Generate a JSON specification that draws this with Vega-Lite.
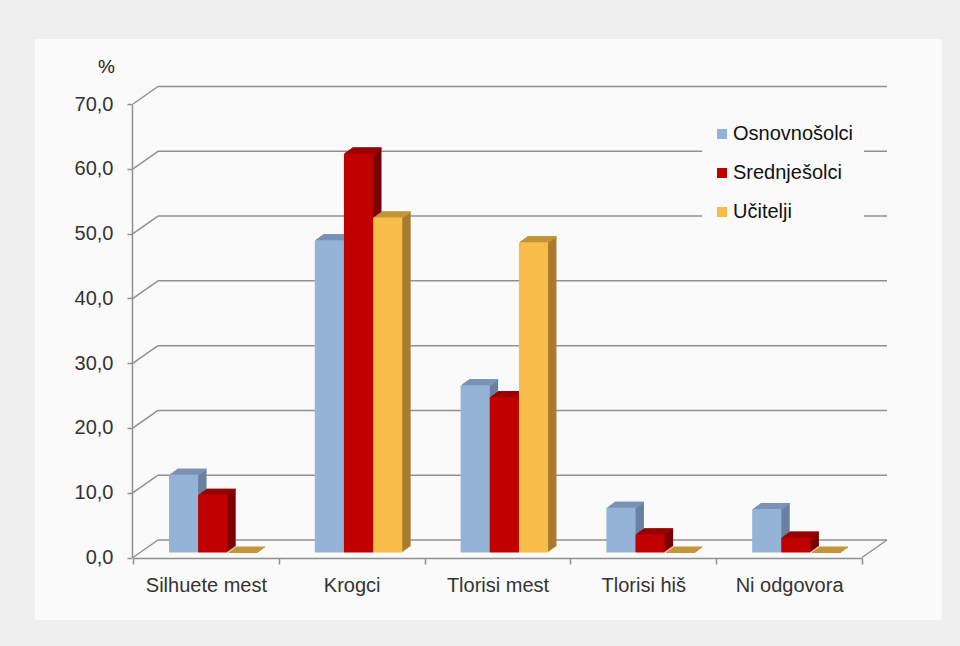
{
  "$schema": "https://vega.github.io/schema/vega-lite/v6.json",
  "width": 907,
  "height": 581,
  "autosize": {"type": "none"},
  "padding": {"left": 35, "top": 39, "right": 18, "bottom": 26},
  "background": "#efefef",
  "config": {"view": {"fill": "#fafafa", "stroke": null}, "font": "Liberation Sans"},
  "datasets": {
    "bars": [
      {"k": "Silhuete mest", "s": "Osnovnošolci", "v": 12.0},
      {"k": "Silhuete mest", "s": "Srednješolci", "v": 8.9},
      {"k": "Silhuete mest", "s": "Učitelji", "v": 0},
      {"k": "Krogci", "s": "Osnovnošolci", "v": 48.2},
      {"k": "Krogci", "s": "Srednješolci", "v": 61.6},
      {"k": "Krogci", "s": "Učitelji", "v": 51.7},
      {"k": "Tlorisi mest", "s": "Osnovnošolci", "v": 25.8},
      {"k": "Tlorisi mest", "s": "Srednješolci", "v": 24.0},
      {"k": "Tlorisi mest", "s": "Učitelji", "v": 47.9},
      {"k": "Tlorisi hiš", "s": "Osnovnošolci", "v": 6.9},
      {"k": "Tlorisi hiš", "s": "Srednješolci", "v": 2.8},
      {"k": "Tlorisi hiš", "s": "Učitelji", "v": 0},
      {"k": "Ni odgovora", "s": "Osnovnošolci", "v": 6.7},
      {"k": "Ni odgovora", "s": "Srednješolci", "v": 2.3},
      {"k": "Ni odgovora", "s": "Učitelji", "v": 0}
    ],
    "grid": [{"v": 0}, {"v": 10}, {"v": 20}, {"v": 30}, {"v": 40}, {"v": 50}, {"v": 60}, {"v": 70}]
  },
  "encoding": {
    "x": {
      "field": "k", "type": "nominal", "title": null,
      "scale": {"domain": ["Silhuete mest", "Krogci", "Tlorisi mest", "Tlorisi hiš", "Ni odgovora"], "range": [98, 827], "paddingInner": 0, "paddingOuter": 0},
      "axis": {"orient": "bottom", "offset": -62, "labelAngle": 0, "labelFontSize": 20, "labelFont": "Liberation Sans", "labelColor": "#333333", "labelPadding": 11, "tickBand": "extent", "tickSize": 6, "tickColor": "#909090", "tickWidth": 1.5, "domainColor": "#909090", "domainWidth": 1.5, "grid": false}
    },
    "y": {
      "field": "v", "type": "quantitative",
      "scale": {"domain": [0, 70], "range": [518.5, 65], "nice": false},
      "axis": {"values": [0, 10, 20, 30, 40, 50, 60, 70], "offset": -97, "grid": false, "labelExpr": "replace(format(datum.value, '.1f'), '.', ',')", "labelFontSize": 20, "labelFont": "Liberation Sans", "labelColor": "#333333", "labelPadding": 14, "tickSize": 5, "tickColor": "#909090", "tickWidth": 1.5, "domainColor": "#909090", "domainWidth": 1.5, "title": "%", "titleAngle": 0, "titleX": -26, "titleY": 27, "titleFontSize": 19, "titleFontWeight": "normal", "titleColor": "#222222", "titleAlign": "center", "titleBaseline": "middle", "titleFont": "Liberation Sans"}
    }
  },
  "layer": [
    {"data": {"name": "grid"}, "mark": {"type": "rule", "color": "#909090", "strokeWidth": 1.5, "xOffset": -47.9, "x2Offset": 97.9, "yOffset": -17.5}, "encoding": {"x": {"datum": "Silhuete mest"}, "x2": {"datum": "Ni odgovora"}}},
    {"data": {"name": "grid"}, "mark": {"type": "rule", "color": "#909090", "strokeWidth": 1.5, "xOffset": -72.9, "x2Offset": -47.9, "y2Offset": -17.5}, "encoding": {"x": {"datum": "Silhuete mest"}, "x2": {"datum": "Silhuete mest"}, "y2": {"field": "v"}}},
    {"data": {"name": "grid"}, "transform": [{"filter": "datum.v === 0"}], "mark": {"type": "rule", "color": "#909090", "strokeWidth": 1.5, "xOffset": 72.9, "x2Offset": 97.9, "y2Offset": -17.5}, "encoding": {"x": {"datum": "Ni odgovora"}, "x2": {"datum": "Ni odgovora"}, "y2": {"field": "v"}}},

    {"data": {"name": "bars"}, "mark": {"type": "bar", "yOffset": -11, "y2Offset": -11}, "encoding": {"xOffset": {"field": "s", "type": "nominal", "scale": {"domain": ["Osnovnošolci", "Srednješolci", "Učitelji"], "paddingInner": 0, "paddingOuter": 1.1318, "align": 0.7608}}, "y2": {"datum": 0}, "fill": {"condition": [{"test": "datum.s === 'Osnovnošolci'", "value": "#6880a2"}, {"test": "datum.s === 'Srednješolci'", "value": "#7a0000"}], "value": "#a87b2e"}}},
    {"data": {"name": "bars"}, "mark": {"type": "bar", "yOffset": -10, "y2Offset": -10}, "encoding": {"xOffset": {"field": "s", "type": "nominal", "scale": {"domain": ["Osnovnošolci", "Srednješolci", "Učitelji"], "paddingInner": 0, "paddingOuter": 1.1318, "align": 0.7368}}, "y2": {"datum": 0}, "fill": {"condition": [{"test": "datum.s === 'Osnovnošolci'", "value": "#6880a2"}, {"test": "datum.s === 'Srednješolci'", "value": "#7a0000"}], "value": "#a87b2e"}}},
    {"data": {"name": "bars"}, "mark": {"type": "bar", "yOffset": -9, "y2Offset": -9}, "encoding": {"xOffset": {"field": "s", "type": "nominal", "scale": {"domain": ["Osnovnošolci", "Srednješolci", "Učitelji"], "paddingInner": 0, "paddingOuter": 1.1318, "align": 0.7129}}, "y2": {"datum": 0}, "fill": {"condition": [{"test": "datum.s === 'Osnovnošolci'", "value": "#6880a2"}, {"test": "datum.s === 'Srednješolci'", "value": "#7a0000"}], "value": "#a87b2e"}}},
    {"data": {"name": "bars"}, "mark": {"type": "bar", "yOffset": -8, "y2Offset": -8}, "encoding": {"xOffset": {"field": "s", "type": "nominal", "scale": {"domain": ["Osnovnošolci", "Srednješolci", "Učitelji"], "paddingInner": 0, "paddingOuter": 1.1318, "align": 0.6890}}, "y2": {"datum": 0}, "fill": {"condition": [{"test": "datum.s === 'Osnovnošolci'", "value": "#6880a2"}, {"test": "datum.s === 'Srednješolci'", "value": "#7a0000"}], "value": "#a87b2e"}}},
    {"data": {"name": "bars"}, "mark": {"type": "bar", "yOffset": -7, "y2Offset": -7}, "encoding": {"xOffset": {"field": "s", "type": "nominal", "scale": {"domain": ["Osnovnošolci", "Srednješolci", "Učitelji"], "paddingInner": 0, "paddingOuter": 1.1318, "align": 0.6651}}, "y2": {"datum": 0}, "fill": {"condition": [{"test": "datum.s === 'Osnovnošolci'", "value": "#6880a2"}, {"test": "datum.s === 'Srednješolci'", "value": "#7a0000"}], "value": "#a87b2e"}}},
    {"data": {"name": "bars"}, "mark": {"type": "bar", "yOffset": -6, "y2Offset": -6}, "encoding": {"xOffset": {"field": "s", "type": "nominal", "scale": {"domain": ["Osnovnošolci", "Srednješolci", "Učitelji"], "paddingInner": 0, "paddingOuter": 1.1318, "align": 0.6411}}, "y2": {"datum": 0}, "fill": {"condition": [{"test": "datum.s === 'Osnovnošolci'", "value": "#6880a2"}, {"test": "datum.s === 'Srednješolci'", "value": "#7a0000"}], "value": "#a87b2e"}}},

    {"data": {"name": "bars"}, "mark": {"type": "bar", "yOffset": -11, "y2Offset": -9.5}, "encoding": {"xOffset": {"field": "s", "type": "nominal", "scale": {"domain": ["Osnovnošolci", "Srednješolci", "Učitelji"], "paddingInner": 0, "paddingOuter": 1.1318, "align": 0.7608}}, "y2": {"field": "v"}, "fill": {"condition": [{"test": "datum.s === 'Osnovnošolci'", "value": "#7b93b6"}, {"test": "datum.s === 'Srednješolci'", "value": "#9a0000"}], "value": "#c4953a"}}},
    {"data": {"name": "bars"}, "mark": {"type": "bar", "yOffset": -10, "y2Offset": -8.5}, "encoding": {"xOffset": {"field": "s", "type": "nominal", "scale": {"domain": ["Osnovnošolci", "Srednješolci", "Učitelji"], "paddingInner": 0, "paddingOuter": 1.1318, "align": 0.7368}}, "y2": {"field": "v"}, "fill": {"condition": [{"test": "datum.s === 'Osnovnošolci'", "value": "#7b93b6"}, {"test": "datum.s === 'Srednješolci'", "value": "#9a0000"}], "value": "#c4953a"}}},
    {"data": {"name": "bars"}, "mark": {"type": "bar", "yOffset": -9, "y2Offset": -7.5}, "encoding": {"xOffset": {"field": "s", "type": "nominal", "scale": {"domain": ["Osnovnošolci", "Srednješolci", "Učitelji"], "paddingInner": 0, "paddingOuter": 1.1318, "align": 0.7129}}, "y2": {"field": "v"}, "fill": {"condition": [{"test": "datum.s === 'Osnovnošolci'", "value": "#7b93b6"}, {"test": "datum.s === 'Srednješolci'", "value": "#9a0000"}], "value": "#c4953a"}}},
    {"data": {"name": "bars"}, "mark": {"type": "bar", "yOffset": -8, "y2Offset": -6.5}, "encoding": {"xOffset": {"field": "s", "type": "nominal", "scale": {"domain": ["Osnovnošolci", "Srednješolci", "Učitelji"], "paddingInner": 0, "paddingOuter": 1.1318, "align": 0.6890}}, "y2": {"field": "v"}, "fill": {"condition": [{"test": "datum.s === 'Osnovnošolci'", "value": "#7b93b6"}, {"test": "datum.s === 'Srednješolci'", "value": "#9a0000"}], "value": "#c4953a"}}},
    {"data": {"name": "bars"}, "mark": {"type": "bar", "yOffset": -7, "y2Offset": -5.5}, "encoding": {"xOffset": {"field": "s", "type": "nominal", "scale": {"domain": ["Osnovnošolci", "Srednješolci", "Učitelji"], "paddingInner": 0, "paddingOuter": 1.1318, "align": 0.6651}}, "y2": {"field": "v"}, "fill": {"condition": [{"test": "datum.s === 'Osnovnošolci'", "value": "#7b93b6"}, {"test": "datum.s === 'Srednješolci'", "value": "#9a0000"}], "value": "#c4953a"}}},
    {"data": {"name": "bars"}, "mark": {"type": "bar", "yOffset": -6, "y2Offset": -4.5}, "encoding": {"xOffset": {"field": "s", "type": "nominal", "scale": {"domain": ["Osnovnošolci", "Srednješolci", "Učitelji"], "paddingInner": 0, "paddingOuter": 1.1318, "align": 0.6411}}, "y2": {"field": "v"}, "fill": {"condition": [{"test": "datum.s === 'Osnovnošolci'", "value": "#7b93b6"}, {"test": "datum.s === 'Srednješolci'", "value": "#9a0000"}], "value": "#c4953a"}}},

    {"data": {"name": "bars"}, "mark": {"type": "bar", "yOffset": -5, "y2Offset": -5}, "encoding": {
      "xOffset": {"field": "s", "type": "nominal", "scale": {"domain": ["Osnovnošolci", "Srednješolci", "Učitelji"], "paddingInner": 0, "paddingOuter": 1.1318, "align": 0.6172}},
      "y2": {"datum": 0},
      "color": {"field": "s", "type": "nominal", "scale": {"domain": ["Osnovnošolci", "Srednješolci", "Učitelji"], "range": ["#95b3d7", "#c00000", "#f8bc48"]},
        "legend": {"orient": "none", "legendX": 667, "legendY": 75, "title": null, "symbolType": "square", "symbolSize": 100, "symbolStrokeWidth": 0, "labelFontSize": 20, "labelFont": "Liberation Sans", "labelColor": "#111111", "labelOffset": 1, "rowPadding": 19, "padding": 10, "fillColor": "#fafafa", "strokeColor": null}}
    }}
  ],
  "resolve": {"scale": {"xOffset": "independent"}}
}
